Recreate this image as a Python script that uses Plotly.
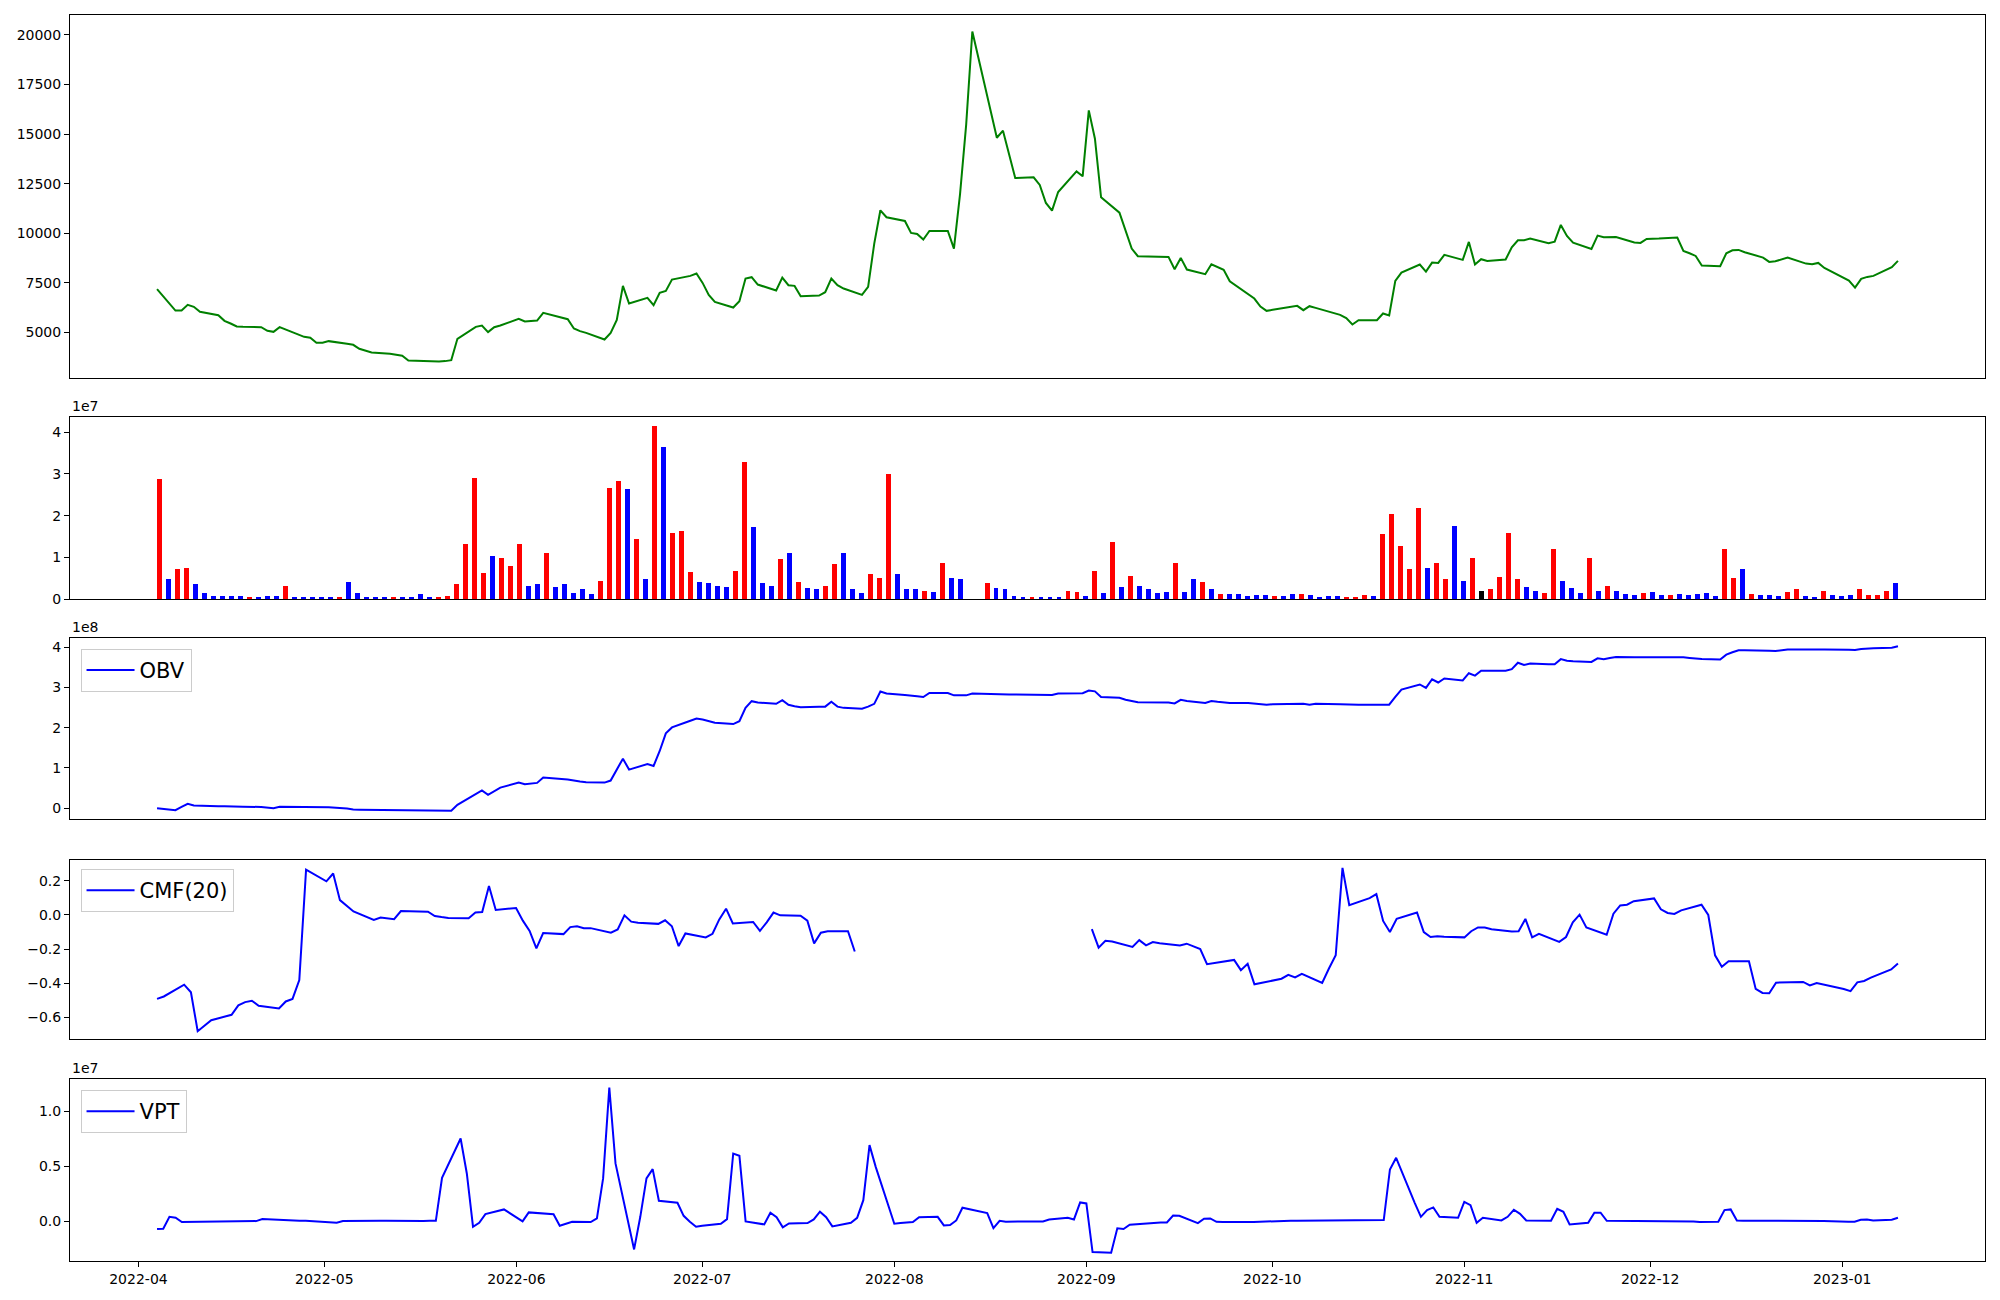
import pandas as pd
import plotly.graph_objects as go

# ---------------- data ----------------
KRX_HOLIDAYS = ["2022-05-05", "2022-06-01", "2022-06-06", "2022-08-15", "2022-09-09",
                "2022-09-12", "2022-10-03", "2022-10-10", "2022-12-30"]
DATES = pd.bdate_range("2022-04-01", "2023-01-10", freq="C", holidays=KRX_HOLIDAYS)

PRICE = [7181, 6107, 6107, 6393, 6292, 6040, 5873, 5587, 5453, 5302,
         5285, 5268, 5084, 5034, 5268, 5151, 4782, 4732, 4480, 4480,
         4564, 4430, 4379, 4178, 3993, 3926, 3876, 3825, 3590, 3574,
         3540, 3540, 3557, 3607, 4681, 5285, 5352, 5017, 5268, 5352,
         5688, 5554, 5604, 5990, 5671, 5201, 5067, 4983, 4648, 4983,
         5638, 7349, 6460, 6745, 6376, 6997, 7098, 7668, 7853, 7970,
         7500, 6896, 6544, 6259, 6577, 7718, 7785, 7416, 7114, 7769,
         7383, 7349, 6829, 6863, 7030, 7718, 7383, 7215, 6896, 7299,
         9480, 11158, 10806, 10621, 10017, 9967, 9682, 10118, 10118, 9229,
         11990, 15490, 20169, 14816, 15169, 13977, 12786, 12820, 12434, 11528,
         11141, 12081, 13121, 12870, 16192, 14766, 11813, 11041, 10135, 9229,
         8843, 8809, 8188, 8759, 8171, 7937, 8440, 8289, 8155, 7584,
         6930, 6712, 6309, 6091, 6141, 6342, 6124, 6326, 6242, 5889,
         5722, 5403, 5621, 5621, 5956, 5856, 7601, 8020, 8423, 8071,
         8524, 8507, 8910, 8658, 9564, 8423, 8692, 8608, 8675, 9296,
         9648, 9648, 9732, 9497, 9581, 10420, 9866, 9531, 9212, 9883,
         9799, 9816, 9816, 9531, 9514, 9715, 9715, 9732, 9782, 9111,
         8994, 8859, 8373, 8339, 8994, 9145, 9161, 9044, 8776, 8557,
         8591, 8675, 8776, 8473, 8440, 8507, 8255, 7618, 7265, 7702,
         7802, 7853, 8289, 8608]

# volume in units of 1e7
VOLUME_E7 = [2.88, 0.48, 0.72, 0.74, 0.36, 0.14, 0.07, 0.07, 0.07, 0.07,
             0.05, 0.05, 0.07, 0.07, 0.31, 0.05, 0.05, 0.025, 0.025, 0.025,
             0.025, 0.41, 0.14, 0.05, 0.05, 0.025, 0.05, 0.025, 0.05, 0.12,
             0.05, 0.05, 0.07, 0.36, 1.32, 2.90, 0.62, 1.03, 0.98, 0.79,
             1.30, 0.31, 0.34, 1.10, 0.29, 0.36, 0.14, 0.22, 0.12, 0.43,
             2.66, 2.83, 2.64, 1.42, 0.46, 4.15, 3.65, 1.58, 1.63, 0.65,
             0.41, 0.38, 0.31, 0.29, 0.67, 3.29, 1.73, 0.38, 0.31, 0.96,
             1.10, 0.41, 0.26, 0.22, 0.31, 0.82, 1.10, 0.22, 0.14, 0.60,
             0.50, 2.98, 0.60, 0.24, 0.24, 0.19, 0.17, 0.86, 0.50, 0.46,
             0.0, 0.0, 0.38, 0.26, 0.24, 0.07, 0.05, 0.05, 0.05, 0.05,
             0.025, 0.19, 0.17, 0.07, 0.67, 0.14, 1.37, 0.29, 0.55, 0.31,
             0.22, 0.14, 0.17, 0.86, 0.17, 0.46, 0.41, 0.24, 0.12, 0.12,
             0.12, 0.07, 0.10, 0.10, 0.07, 0.07, 0.12, 0.12, 0.10, 0.05,
             0.07, 0.07, 0.05, 0.05, 0.10, 0.07, 1.56, 2.02, 1.27, 0.72,
             2.18, 0.74, 0.86, 0.48, 1.75, 0.43, 0.98, 0.19, 0.22, 0.53,
             1.58, 0.48, 0.29, 0.19, 0.14, 1.18, 0.43, 0.26, 0.14, 0.98,
             0.19, 0.31, 0.19, 0.12, 0.10, 0.14, 0.17, 0.10, 0.10, 0.12,
             0.10, 0.12, 0.14, 0.07, 1.18, 0.50, 0.72, 0.12, 0.10, 0.10,
             0.07, 0.17, 0.22, 0.07, 0.05, 0.19, 0.10, 0.07, 0.10, 0.22,
             0.10, 0.10, 0.19, 0.38]

# R = up day (red), B = down day (blue), K = unchanged (black)
BAR_DIRECTION = ("RBRRBBBBBB" "RBBBRBBBBB" "RBBBBBRBBB" "BRRRRRRBRR" "RBBRBBBBBR"
                 "RRBRBRBRRR" "BBBBRRBBBR" "BRBBRRBBBR" "RRBBBRBRBB" "RRRBBBBRBB"
                 "BRRBRBRBRB" "BBBRBBRBRB" "BBBBRBBRBB" "BBRRRBRRRR" "RBRRBBRKRR"
                 "RRBBRRBBBR" "BRBBBRBBRB" "BBBBRRBRBB" "BRRBBRBBBR" "RRRB")

# OBV in units of 1e8
OBV_E8 = [0.0, -0.05, 0.03, 0.107, 0.066, 0.058, 0.05, 0.045, 0.04, 0.03,
          0.035, 0.03, 0.02, 0.0, 0.033, 0.03, 0.028, 0.027, 0.025, 0.025,
          0.025, -0.01, -0.033, -0.037, -0.04, -0.043, -0.04, -0.045, -0.05, -0.06,
          -0.066, -0.066, -0.066, -0.066, 0.082, 0.35, 0.44, 0.33, 0.42, 0.51,
          0.635, 0.594, 0.627, 0.76, 0.71, 0.676, 0.66, 0.643, 0.635, 0.685,
          0.965, 1.229, 0.957, 1.097, 1.047, 1.419, 1.856, 2.004, 2.17, 2.227,
          2.20, 2.16, 2.12, 2.087, 2.16, 2.49, 2.656, 2.623, 2.59, 2.68,
          2.565, 2.53, 2.507, 2.52, 2.52, 2.64, 2.52, 2.49, 2.47, 2.52,
          2.59, 2.895, 2.845, 2.81, 2.80, 2.78, 2.76, 2.86, 2.86, 2.80,
          2.80, 2.80, 2.845, 2.82, 2.82, 2.82, 2.82, 2.81, 2.80, 2.80,
          2.81, 2.845, 2.85, 2.853, 2.92, 2.90, 2.76, 2.74, 2.69, 2.655,
          2.63, 2.62, 2.60, 2.69, 2.66, 2.61, 2.66, 2.64, 2.62, 2.61,
          2.61, 2.60, 2.58, 2.57, 2.58, 2.59, 2.59, 2.57, 2.59, 2.58,
          2.57, 2.565, 2.565, 2.57, 2.57, 2.57, 2.76, 2.945, 3.07, 2.985,
          3.20, 3.12, 3.22, 3.17, 3.35, 3.29, 3.41, 3.41, 3.41, 3.45,
          3.61, 3.555, 3.59, 3.57, 3.575, 3.70, 3.66, 3.645, 3.63, 3.72,
          3.70, 3.73, 3.75, 3.745, 3.745, 3.745, 3.745, 3.75, 3.75, 3.745,
          3.73, 3.71, 3.70, 3.69, 3.81, 3.87, 3.92, 3.92, 3.92, 3.91,
          3.90, 3.925, 3.94, 3.94, 3.94, 3.95, 3.94, 3.93, 3.925, 3.95,
          3.96, 3.97, 3.98, 4.02]

CMF_PART_1 = [-0.491, -0.477, -0.408, -0.452, -0.680, -0.616, -0.584, -0.529, -0.510, -0.502,
              -0.531, -0.547, -0.506, -0.491, -0.381, 0.265, 0.197, 0.243, 0.087, 0.054,
              0.021, -0.029, -0.015, -0.025, 0.023, 0.019, -0.006, -0.012, -0.017, -0.019,
              0.014, 0.017, 0.170, 0.029, 0.041, -0.033, -0.093, -0.195, -0.106, -0.112,
              -0.071, -0.066, -0.077, -0.077, -0.104, -0.085, -0.002, -0.039, -0.046, -0.052,
              -0.031, -0.066, -0.182, -0.108, -0.131, -0.110, -0.026, 0.037, -0.050, -0.041,
              -0.093, -0.043, 0.014, -0.002, -0.004, -0.033, -0.166, -0.104, -0.095, -0.095,
              -0.214]
CMF_PART_2 = [-0.083, -0.191, -0.151, -0.155, -0.187, -0.147, -0.178, -0.158, -0.166, -0.178,
              -0.168, -0.184, -0.199, -0.288, -0.263, -0.323, -0.286, -0.406, -0.373, -0.350,
              -0.365, -0.344, -0.398, -0.313, -0.236, 0.276, 0.058, 0.099, 0.122, -0.035,
              -0.100, -0.023, 0.015, -0.100, -0.129, -0.124, -0.128, -0.131, -0.095, -0.073,
              -0.073, -0.083, -0.097, -0.095, -0.023, -0.131, -0.110, -0.157, -0.129, -0.043,
              0.002, -0.073, -0.116, 0.008, 0.056, 0.060, 0.081, 0.097, 0.033, 0.012,
              0.006, 0.027, 0.060, 0.000, -0.236, -0.303, -0.271, -0.271, -0.433, -0.456,
              -0.458, -0.396, -0.394, -0.392, -0.412, -0.398, -0.433, -0.446, -0.394, -0.386,
              -0.367, -0.319, -0.284]
# CMF(20): undefined for the first 19 rows and for 21 rows after the locked (no-range) days
CMF = [None] * 19 + CMF_PART_1 + [None] * 21 + CMF_PART_2

# VPT in units of 1e7 (first row undefined)
VPT_E7 = [None, -0.069, -0.066, 0.042, 0.033, -0.006, -0.003, -0.003, -0.002, -0.002,
          -0.001, 0.000, 0.001, 0.003, 0.021, 0.018, 0.006, 0.006, 0.006, 0.006,
          0.003, -0.009, -0.012, 0.003, 0.006, 0.006, 0.006, 0.006, 0.005, 0.005,
          0.005, 0.005, 0.006, 0.006, 0.396, 0.752, 0.435, -0.048, -0.012, 0.066,
          0.109, 0.073, 0.0, 0.082, 0.066, -0.039, -0.021, -0.003, -0.006, 0.027,
          0.390, 1.214, 0.526, -0.254, 0.042, 0.390, 0.474, 0.187, 0.169, 0.051,
          -0.003, -0.048, -0.039, -0.021, 0.021, 0.616, 0.595, 0.0, -0.027, 0.079,
          0.039, -0.054, -0.018, -0.015, 0.018, 0.088, 0.039, -0.045, -0.012, 0.033,
          0.193, 0.692, 0.495, -0.021, -0.015, -0.012, -0.006, 0.039, 0.042, -0.036,
          -0.033, 0.009, 0.124, 0.076, -0.060, 0.006, -0.003, 0.0, 0.0, 0.0,
          0.0, 0.018, 0.033, 0.018, 0.172, 0.163, -0.278, -0.284, -0.063, -0.069,
          -0.030, -0.009, -0.009, 0.054, 0.051, -0.015, 0.024, 0.027, -0.003, -0.006,
          -0.009, -0.009, -0.006, -0.003, 0.0, 0.006, 0.006, 0.006, 0.006, 0.006,
          0.006, 0.006, 0.006, 0.009, 0.009, 0.012, 0.471, 0.577, 0.169, 0.042,
          0.103, 0.127, 0.042, 0.033, 0.178, 0.148, -0.012, 0.033, 0.009, 0.042,
          0.106, 0.069, 0.009, 0.006, 0.006, 0.115, 0.088, -0.027, -0.012, 0.079,
          0.079, 0.006, 0.006, 0.003, 0.003, 0.003, 0.006, 0.006, 0.006, 0.003,
          0.003, 0.0, -0.006, -0.003, 0.103, 0.109, 0.009, 0.006, 0.006, 0.006,
          0.006, 0.009, 0.009, 0.006, 0.006, 0.003, 0.003, -0.003, -0.003, 0.015,
          0.018, 0.009, 0.015, 0.033]

PRICE_TICKS = [5000, 7500, 10000, 12500, 15000, 17500, 20000]
DIRECTION_COLORS = {"R": "red", "B": "blue", "K": "black"}

# ---------------- helpers (matplotlib-like autoscale, 5% margins) ----------------
def valid_idx(vals):
    return [i for i, v in enumerate(vals) if v is not None]

def x_date_range(vals):
    idx = valid_idx(vals)
    a, b = DATES[idx[0]], DATES[idx[-1]]
    span = b - a
    return [(a - 0.05 * span).isoformat(), (b + 0.05 * span).isoformat()]

def y_range(vals):
    v = [x for x in vals if x is not None]
    lo, hi = min(v), max(v)
    m = 0.05 * (hi - lo)
    return [lo - m, hi + m]

date_labels = [d.strftime("%Y-%m-%d") for d in DATES]
bar_colors = [DIRECTION_COLORS[c] for c in BAR_DIRECTION]
n = len(DATES)
bar_w = 0.55
bar_margin = 0.05 * (n - 1 + bar_w)

# ---------------- figure ----------------
fig = go.Figure()
fig.add_trace(go.Scatter(x=DATES, y=PRICE, mode="lines", line=dict(color="green", width=2),
                         xaxis="x", yaxis="y", showlegend=False))
fig.add_trace(go.Bar(x=date_labels, y=VOLUME_E7, marker=dict(color=bar_colors, line=dict(width=0)),
                     width=bar_w, xaxis="x2", yaxis="y2", showlegend=False))
fig.add_trace(go.Scatter(x=DATES, y=OBV_E8, mode="lines", line=dict(color="blue", width=2),
                         name="OBV", xaxis="x3", yaxis="y3", legend="legend"))
fig.add_trace(go.Scatter(x=DATES, y=CMF, mode="lines", line=dict(color="blue", width=2),
                         name="CMF(20)", xaxis="x4", yaxis="y4", legend="legend2"))
fig.add_trace(go.Scatter(x=DATES, y=VPT_E7, mode="lines", line=dict(color="blue", width=2),
                         name="VPT", xaxis="x5", yaxis="y5", legend="legend3"))

frame = dict(showline=True, linecolor="black", linewidth=1, mirror=True,
             showgrid=False, zeroline=False, automargin=False)
yfr = dict(frame, ticks="outside", ticklen=5, tickwidth=1, tickcolor="black")
xhidden = dict(frame, showticklabels=False, ticks="")

domains = {
    "price": [0.7087, 1.0],
    "vol": [0.5313, 0.6771],
    "obv": [0.3547, 0.5],
    "cmf": [0.1779, 0.3221],
    "vpt": [0.0, 0.1458],
}

vmax = max(VOLUME_E7)
fig.update_layout(
    width=2000, height=1300, autosize=False,
    margin=dict(l=70, r=15, t=15, b=39),
    paper_bgcolor="white", plot_bgcolor="white",
    font=dict(family="DejaVu Sans", size=14, color="black"),
    bargap=0,
    xaxis=dict(xhidden, type="date", range=x_date_range(PRICE), anchor="y", domain=[0, 1]),
    yaxis=dict(yfr, domain=domains["price"], range=y_range(PRICE), anchor="x",
               tickvals=PRICE_TICKS, tickformat="d"),
    xaxis2=dict(xhidden, type="category", range=[-bar_w / 2 - bar_margin, n - 1 + bar_w / 2 + bar_margin],
                anchor="y2", domain=[0, 1]),
    yaxis2=dict(yfr, domain=domains["vol"], range=[0, vmax * 1.05], anchor="x2",
                dtick=1, tick0=0, tickformat="d"),
    xaxis3=dict(xhidden, type="date", range=x_date_range(OBV_E8), anchor="y3", domain=[0, 1]),
    yaxis3=dict(yfr, domain=domains["obv"], range=y_range(OBV_E8), anchor="x3",
                dtick=1, tick0=0, tickformat="d"),
    xaxis4=dict(xhidden, type="date", range=x_date_range(CMF), anchor="y4", domain=[0, 1]),
    yaxis4=dict(yfr, domain=domains["cmf"], range=y_range(CMF), anchor="x4",
                dtick=0.2, tick0=0, tickformat=".1f"),
    xaxis5=dict(frame, type="date", range=x_date_range(VPT_E7), anchor="y5", domain=[0, 1],
                ticks="outside", ticklen=5, tickwidth=1, tickcolor="black",
                dtick="M1", tick0="2022-04-01", tickformat="%Y-%m"),
    yaxis5=dict(yfr, domain=domains["vpt"], range=y_range(VPT_E7), anchor="x5",
                dtick=0.5, tick0=0, tickformat=".1f"),
)

leg_style = dict(xanchor="left", yanchor="top", bgcolor="rgba(255,255,255,0.8)",
                 bordercolor="#cccccc", borderwidth=1, font=dict(size=21, family="DejaVu Sans"),
                 x=0.0055, itemwidth=48)
fig.update_layout(
    legend=dict(leg_style, y=0.4912),
    legend2=dict(leg_style, y=0.3146),
    legend3=dict(leg_style, y=0.1372),
)

for label, top in (("1e7", domains["vol"][1]), ("1e8", domains["obv"][1]), ("1e7", domains["vpt"][1])):
    fig.add_annotation(text=label, xref="paper", yref="paper", x=0, y=top,
                       xanchor="left", yanchor="bottom", showarrow=False, yshift=1,
                       font=dict(size=14, family="DejaVu Sans"))

# place the figure flush with the page origin (no default body margin), no toolbar
fig.write_html("out.html", config={"displayModeBar": False},
               post_script="document.body.style.margin='0px';document.body.style.overflow='hidden';")
